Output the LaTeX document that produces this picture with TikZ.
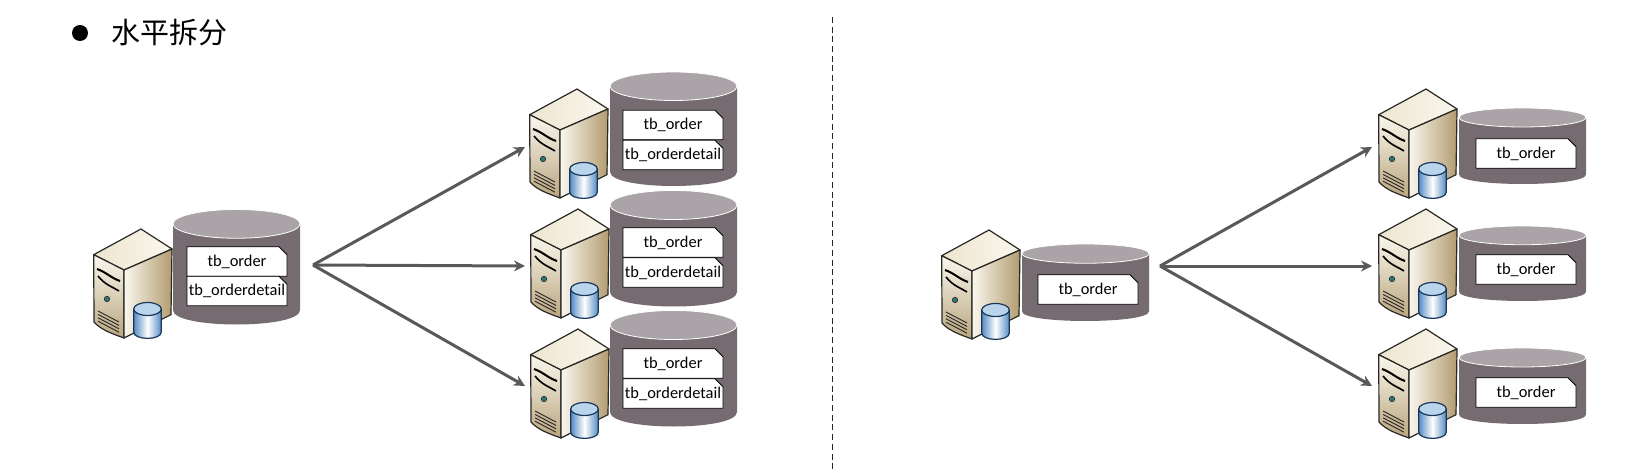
\documentclass[tikz,border=0pt]{standalone}
\usepackage{fontspec}
\setmainfont{Carlito}
\newfontfamily\cjk{Noto Sans CJK SC}
\usetikzlibrary{arrows.meta,shapes.misc}
\definecolor{CylBody}{RGB}{117,107,112}
\definecolor{CylTop}{RGB}{170,164,168}
\definecolor{ArrowClr}{RGB}{89,89,89}
\definecolor{SrvEdge}{RGB}{40,40,36}
\definecolor{SrvLight}{RGB}{250,247,238}
\definecolor{SrvCream}{RGB}{238,229,207}
\definecolor{SrvTan}{RGB}{178,156,112}
\definecolor{MiniEdge}{RGB}{25,55,90}
\definecolor{MiniBlue}{RGB}{85,140,195}
\definecolor{MiniTop}{RGB}{185,212,235}
\newcommand\tbname[1]{\makebox[80pt]{\raisebox{-1.2pt}{#1}}}
\tikzset{
  tbnode/.style={chamfered rectangle,chamfered rectangle corners=north east,
    chamfered rectangle xsep=4pt,chamfered rectangle ysep=4pt,draw=black,line width=.9pt,
    fill=white,minimum width=100pt,minimum height=29.5pt,inner sep=0pt,
    font=\fontsize{16.4}{16.4}\selectfont},
  flow/.style={draw=ArrowClr,line width=3pt,-{Stealth[length=11pt,width=11pt]}},
  dbcyl/.pic={
    \pgfmathsetmacro\cylry{#1/8}
    \pgfmathsetmacro\cylbot{#1-\cylry}
    \pgfmathsetmacro\cylctl{#1+\cylry/3}
    \fill[CylBody] (-63.5,\cylry) -- (-63.5,\cylbot) .. controls (-63.5,\cylctl) and (63.5,\cylctl) .. (63.5,\cylbot) -- (63.5,\cylry) -- cycle;
    \draw[white,line width=.8pt,fill=CylTop] (0,\cylry) ellipse [x radius=63.5,y radius=\cylry];
  },
  server/.pic={
    \path[draw=SrvEdge,line width=1.2pt,line join=round,left color=SrvCream,right color=SrvLight]
      (0,0) -- (-47.3,25.7) -- (-17,41) -- (31,20) -- cycle;
    \path[draw=SrvEdge,line width=1.2pt,line join=round,top color=SrvLight,bottom color=SrvTan!90]
      (-47.3,25.7) -- (-17,41) -- (-17,109) .. controls (-28,105) and (-40,101) .. (-47,93) -- cycle;
    \path[draw=SrvEdge,line width=1.2pt,line join=round,left color=SrvLight,right color=SrvTan]
      (-17,41) -- (31,20) -- (30,85.7) -- (-17,109) -- cycle;
    \draw[black,line width=2pt] (-44,40) .. controls (-35,43) and (-30,49) .. (-21,52);
    \draw[black,line width=1.6pt] (-43,47) .. controls (-36,56) and (-28,58) .. (-22,62);
    \fill[teal!70!gray,draw=black!80,line width=.9pt] (-34,70) circle (2.6);
    \foreach \vy in {0,3.4,6.8,10.2}
      \draw[black!85,line width=.9pt] (-43,82+\vy) -- (-22,93+\vy);
    \path[draw=MiniEdge,line width=1.2pt,left color=MiniBlue,right color=MiniBlue,middle color=white]
      (-7.3,80) -- (-7.3,103) .. controls (-7.3,111.5) and (20.3,111.5) .. (20.3,103) -- (20.3,80) -- cycle;
    \draw[MiniEdge,line width=1.2pt,fill=MiniTop] (6.5,80) ellipse [x radius=13.8,y radius=6.5];
  }
}
\begin{document}
\begin{tikzpicture}[x=1pt,y=-1pt]
\useasboundingbox (0,0) rectangle (1643,473);

\node[circle,fill=black,minimum size=16pt,inner sep=0pt] (dot) at (80,33) {};
\node[anchor=west,inner sep=0pt,font=\cjk\fontsize{29}{29}\selectfont] (title) at (111,33) {水平拆分};

\coordinate (splitT) at (832,17);
\coordinate (splitB) at (832,473);
\draw[black!85,line width=.9pt,dash pattern=on 6pt off 3.7pt] (splitT) -- (splitB);

\pic at (236.5,209.5) {dbcyl=115};
\pic at (673.5,72) {dbcyl=114};
\pic at (673.5,190.5) {dbcyl=116};
\pic at (673.5,310.5) {dbcyl=116};
\pic at (1085.5,244) {dbcyl=77};
\pic at (1522.5,108) {dbcyl=76};
\pic at (1522.5,226) {dbcyl=75};
\pic at (1522.5,348) {dbcyl=76};

\pic at (141,229) {server};
\pic at (577,89) {server};
\pic at (578,209) {server};
\pic at (578,329) {server};
\pic at (989,230) {server};
\pic at (1426,89) {server};
\pic at (1426,209) {server};
\pic at (1426,329) {server};

\node[tbnode] (ordL) at (237,261.5) {\tbname{tb\_order}};
\node[tbnode] (detL) at (237,291) {\tbname{tb\_orderdetail}};
\node[tbnode] (ordA) at (673,125) {\tbname{tb\_order}};
\node[tbnode] (detA) at (673,155) {\tbname{tb\_orderdetail}};
\node[tbnode] (ordB) at (673,242.5) {\tbname{tb\_order}};
\node[tbnode] (detB) at (673,272.5) {\tbname{tb\_orderdetail}};
\node[tbnode] (ordC) at (673,363.5) {\tbname{tb\_order}};
\node[tbnode] (detC) at (673,393.5) {\tbname{tb\_orderdetail}};
\node[tbnode] (ordR) at (1088,289.5) {\tbname{tb\_order}};
\node[tbnode] (ordD) at (1526,153.5) {\tbname{tb\_order}};
\node[tbnode] (ordE) at (1526,269.5) {\tbname{tb\_order}};
\node[tbnode] (ordF) at (1526,392.5) {\tbname{tb\_order}};

\coordinate (fanL) at (313,265);
\coordinate (inA) at (525,147);
\coordinate (inB) at (525,266);
\coordinate (inC) at (525,386);
\coordinate (fanR) at (1160,266);
\coordinate (inD) at (1372,147);
\coordinate (inE) at (1372,266);
\coordinate (inF) at (1372,386);

\draw[flow] (fanL) -- (inA);
\draw[flow] (fanL) -- (inB);
\draw[flow] (fanL) -- (inC);
\draw[flow] (fanR) -- (inD);
\draw[flow] (fanR) -- (inE);
\draw[flow] (fanR) -- (inF);
\end{tikzpicture}
\end{document}
